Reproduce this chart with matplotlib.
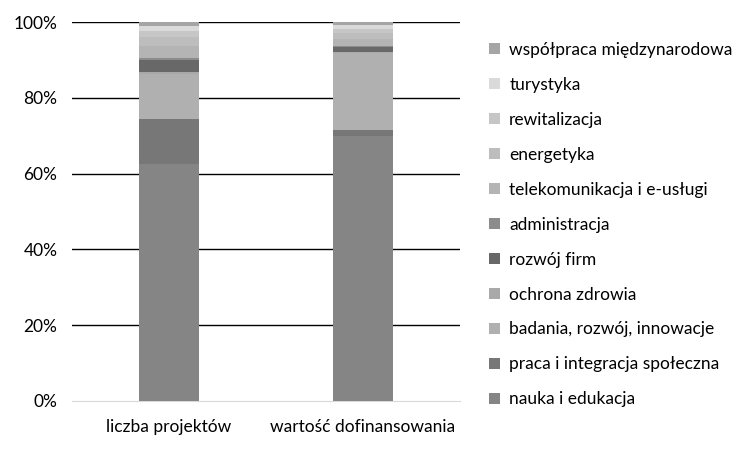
import numpy as np
import matplotlib.pyplot as plt

plt.rcParams["font.family"] = ["Lato", "DejaVu Sans"]

categories = ["liczba projektów", "wartość dofinansowania"]

# series from bottom of the stack to the top
series = ["nauka i edukacja", "praca i integracja społeczna", "badania, rozwój, innowacje",
          "ochrona zdrowia", "rozwój firm", "administracja",
          "telekomunikacja i e-usługi", "energetyka", "rewitalizacja",
          "turystyka", "współpraca międzynarodowa"]

liczba = [62.5, 11.8, 12.0, 0.6, 3.0, 0.7, 3.0, 2.5, 1.5, 1.4, 1.0]
wartosc = [69.9, 1.6, 20.3, 0.4, 1.1, 0.5, 1.7, 1.5, 1.2, 1.0, 0.8]

colors = ["#858585", "#777777", "#b0b0b0", "#a9a9a9", "#686868", "#8c8c8c",
          "#b4b4b4", "#bdbdbd", "#c6c6c6", "#dadada", "#a5a5a5"]

fig = plt.figure(figsize=(7.5, 4.5), dpi=100)
ax = fig.add_axes([0.096, 0.109, 0.517, 0.842])

x = np.arange(len(categories))
bottom = np.zeros(len(categories))
handles = []
for i, name in enumerate(series):
    vals = np.array([liczba[i], wartosc[i]])
    b = ax.bar(x, vals, 0.31, bottom=bottom, color=colors[i], label=name, zorder=3)
    handles.append(b)
    bottom += vals

ax.set_xlim(-0.5, 1.5)
ax.set_ylim(0, 100)
ax.set_yticks(range(0, 101, 20))
ax.set_yticklabels([f"{v}%" for v in range(0, 101, 20)])
ax.set_xticks(x)
ax.set_xticklabels(categories)
ax.tick_params(length=0, labelsize=12.5, colors="#000000")
ax.tick_params(axis="x", pad=13)
ax.tick_params(axis="y", pad=10.5)

# grid lines (not at 0)
for v in range(20, 101, 20):
    ax.axhline(v, color="black", lw=1.0, zorder=1)
for s in ["top", "right", "left"]:
    ax.spines[s].set_visible(False)
ax.spines["bottom"].set_color("#d9d9d9")

fig.legend(handles[::-1], series[::-1], loc="upper left", bbox_to_anchor=(0.643, 0.922),
           frameon=False, fontsize=12.5, handlelength=0.6, handleheight=0.6,
           handletextpad=0.55, labelspacing=1.09, borderaxespad=0)

fig.savefig("out.png", dpi=100)
